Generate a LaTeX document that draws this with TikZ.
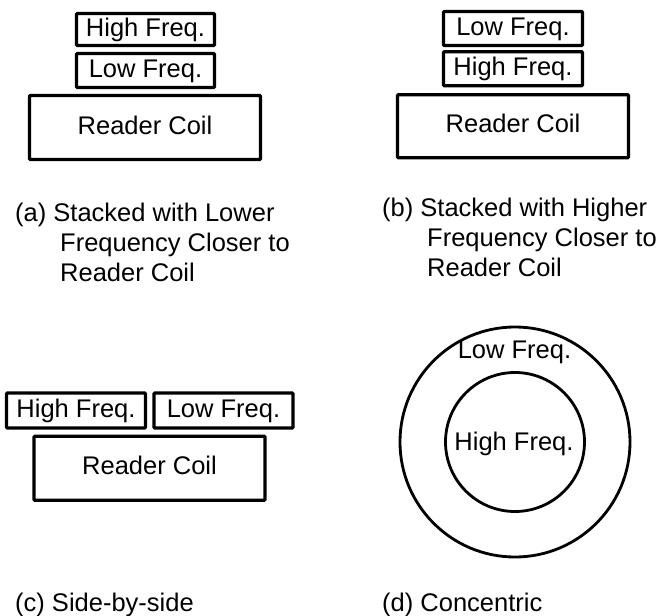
\documentclass[tikz,border=0pt]{standalone}
\usepackage{fontspec}
\setmainfont{Liberation Sans}
\begin{document}
\begin{tikzpicture}[x=1pt,y=-1pt,
  box/.style={draw=black,line width=3.3pt,rounded corners=1pt,inner sep=0pt,
    font=\fontsize{25.5}{30}\selectfont,text height=18.6pt,text depth=5.4pt},
  ring/.style={draw=black,line width=2.8pt,circle,inner sep=0pt},
  lbl/.style={inner sep=0pt,font=\fontsize{25.5}{30}\selectfont},
  captext/.style={inner sep=0pt,anchor=base west,font=\fontsize{25.5}{30}\selectfont}]
\useasboundingbox (0,0) rectangle (665,616);
% (a)
\node[box,minimum width=138pt,minimum height=32pt] (ahigh) at (145.5,29.5) {High Freq.};
\node[box,minimum width=138pt,minimum height=34pt] (alow) at (145.5,70.5) {Low Freq.};
\node[box,minimum width=231pt,minimum height=64pt] (areader) at (145,127.5) {Reader Coil};
\node[captext] (capa1) at (15,221) {(a) Stacked with Lower};
\node[captext] (capa2) at (60,251) {Frequency Closer to};
\node[captext] (capa3) at (60,281) {Reader Coil};
% (b)
\node[box,minimum width=139pt,minimum height=34pt] (blow) at (513,28.5) {Low Freq.};
\node[box,minimum width=139pt,minimum height=34pt] (bhigh) at (513,68.7) {High Freq.};
\node[box,minimum width=231pt,minimum height=63pt] (breader) at (513,126.3) {Reader Coil};
\node[captext] (capb1) at (382,216.5) {(b) Stacked with Higher};
\node[captext] (capb2) at (427,246.5) {Frequency Closer to};
\node[captext] (capb3) at (427,276.5) {Reader Coil};
% (c)
\node[box,minimum width=139pt,minimum height=35pt] (chigh) at (76,410.5) {High Freq.};
\node[box,minimum width=139pt,minimum height=35pt] (clow) at (223.5,410.5) {Low Freq.};
\node[box,minimum width=231pt,minimum height=64pt] (creader) at (149.5,468.3) {Reader Coil};
\node[captext] (capc) at (15,611.5) {(c) Side-by-side};
% (d)
\node[ring,minimum size=230pt] (douter) at (515,442) {};
\node[ring,minimum size=139pt] (dinner) at (515,442) {};
\node[lbl,anchor=base] (dlow) at (514.5,358.3) {Low Freq.};
\node[lbl,anchor=base] (dhigh) at (514,450) {High Freq.};
\node[captext] (capd) at (382,611.5) {(d) Concentric};
\end{tikzpicture}
\end{document}
